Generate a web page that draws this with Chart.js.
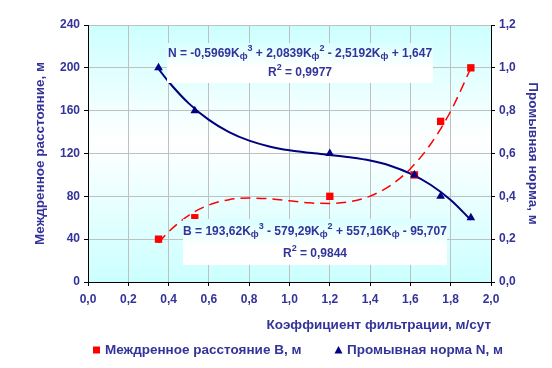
<!DOCTYPE html>
<html><head><meta charset="utf-8">
<script src="https://cdn.jsdelivr.net/npm/chart.js@4/dist/chart.umd.min.js"></script>
<style>html,body{margin:0;padding:0;background:#fff}#wrap{width:552px;height:368px}</style>
</head><body><div id="wrap"><canvas id="c" width="552" height="368"></canvas></div>
<script>
const filtration = [0.35, 0.53, 1.2, 1.62, 1.75, 1.9];
const drainSpacing = [40, 60, 80, 100, 150, 200];
const leachingRate = [1.0, 0.8, 0.6, 0.5, 0.4, 0.3];
const trendX = [0.35, 0.4, 0.5, 0.6, 0.7, 0.8, 0.9, 1.0, 1.1, 1.2, 1.3, 1.4, 1.5, 1.6, 1.7, 1.8, 1.9];
const trendB = [36.6, 46.9, 62.3, 71.9, 76.9, 78.4, 77.7, 75.8, 73.9, 73.3, 75.0, 80.2, 90.1, 105.8, 128.6, 159.5, 199.7];
const trendN = [0.995, 0.935, 0.834, 0.757, 0.700, 0.660, 0.633, 0.615, 0.603, 0.593, 0.582, 0.567, 0.543, 0.506, 0.454, 0.383, 0.290];
const seriesNames = ['Междренное расстояние В, м', 'Промывная норма N, м'];
const axisTitles = {x: 'Коэффициент фильтрации, м/сут', yL: 'Междренное расстояние, м', yR: 'Промывная норма, м'};
const eqB = [['В = 193,62K',''],['ф','sub'],['3','sup'],[' - 579,29K',''],['ф','sub'],['2','sup'],[' + 557,16K',''],['ф','sub'],[' - 95,707','']];
const r2B = [['R',''],['2','sup'],[' = 0,9844','']];
const eqN = [['N = -0,5969K',''],['ф','sub'],['3','sup'],[' + 2,0839K',''],['ф','sub'],['2','sup'],[' - 2,5192K',''],['ф','sub'],[' + 1,647','']];
const r2N = [['R',''],['2','sup'],[' = 0,9977','']];

const TXT = '#333399';
const FONT = 'Liberation Sans, Arial, sans-serif';
const comma = v => Number(v).toFixed(1).replace('.', ',');
const pts = (xs, ys) => xs.map((x, i) => ({x: x, y: ys[i]}));

const bgPlugin = {
  id: 'bg',
  beforeDraw(chart) {
    const {ctx, chartArea: a} = chart;
    const g = ctx.createLinearGradient(0, a.top, 0, a.bottom);
    g.addColorStop(0, '#ccffff');
    g.addColorStop(0.45, '#ffffff');
    g.addColorStop(1, '#ccffff');
    ctx.save();
    ctx.fillStyle = g;
    ctx.fillRect(a.left, a.top, a.right - a.left, a.bottom - a.top);
    ctx.restore();
  }
};

function drawRich(ctx, segs, cx, cy) {
  const big = 'bold 12px ' + FONT, small = 'bold 9px ' + FONT;
  let w = 0;
  segs.forEach(s => { ctx.font = s[1] ? small : big; w += ctx.measureText(s[0]).width; });
  let x = cx - w / 2;
  ctx.textBaseline = 'middle';
  ctx.textAlign = 'left';
  segs.forEach(s => {
    ctx.font = s[1] ? small : big;
    let y = cy;
    if (s[1] === 'sup') y = cy - 5;
    if (s[1] === 'sub') y = cy + 3;
    ctx.fillText(s[0], x, y);
    x += ctx.measureText(s[0]).width;
  });
}

const eqPlugin = {
  id: 'eq',
  afterDatasetsDraw(chart) {
    const ctx = chart.ctx;
    const boxes = [
      {x: 167, y: 43, w: 266, h: 40, l1: eqN, l2: r2N},
      {x: 183, y: 219, w: 264, h: 46, l1: eqB, l2: r2B}
    ];
    ctx.save();
    boxes.forEach(b => {
      const g = ctx.createLinearGradient(0, b.y, 0, b.y + b.h);
      g.addColorStop(0, '#d8ffff');
      g.addColorStop(0.6, '#ffffff');
      g.addColorStop(1, '#ffffff');
      ctx.fillStyle = g;
      ctx.fillRect(b.x, b.y, b.w, b.h);
      ctx.fillStyle = TXT;
      drawRich(ctx, b.l1, b.x + b.w / 2, b.y + b.h * 0.27);
      drawRich(ctx, b.l2, b.x + b.w / 2, b.y + b.h * 0.75);
    });
    ctx.restore();
  }
};

// legend drawn at the positions of the reference, using dataset styles
const legendPlugin = {
  id: 'legendFixed',
  afterDraw(chart) {
    const ctx = chart.ctx;
    const items = [{ds: 0, x: 93}, {ds: 1, x: 335}];
    const cy = 350;
    ctx.save();
    ctx.font = 'bold 13.5px ' + FONT;
    ctx.textBaseline = 'middle';
    ctx.textAlign = 'left';
    items.forEach(it => {
      const d = chart.data.datasets[it.ds];
      ctx.fillStyle = d.backgroundColor;
      ctx.beginPath();
      if (d.pointStyle === 'rect') {
        ctx.rect(it.x, cy - 3.5, 7, 7);
      } else {
        ctx.moveTo(it.x + 3.5, cy - 4);
        ctx.lineTo(it.x + 7.5, cy + 3.5);
        ctx.lineTo(it.x - 0.5, cy + 3.5);
        ctx.closePath();
      }
      ctx.fill();
      ctx.fillStyle = TXT;
      ctx.fillText(d.label, it.x + 12, cy);
    });
    ctx.restore();
  }
};

const tickFont = {family: FONT, size: 12, weight: 'bold'};
const titleFont = {family: FONT, size: 13.5, weight: 'bold'};

new Chart(document.getElementById('c'), {
  type: 'scatter',
  data: {
    datasets: [
      {label: seriesNames[0], data: pts(filtration, drainSpacing), yAxisID: 'y', order: 1,
       pointStyle: 'rect', pointRadius: 5.2, pointHoverRadius: 5.2, backgroundColor: '#ff0000', borderColor: '#ff0000', borderWidth: 0, showLine: false},
      {label: seriesNames[1], data: pts(filtration, leachingRate), yAxisID: 'y1', order: 0,
       pointStyle: 'triangle', pointRadius: 5, pointHoverRadius: 5, backgroundColor: '#000080', borderColor: '#000080', borderWidth: 0, showLine: false},
      {label: 'trendB', data: pts(trendX, trendB), yAxisID: 'y', order: 3, showLine: true, pointRadius: 0,
       borderColor: '#ff0000', borderWidth: 1.5, borderDash: [10, 6], cubicInterpolationMode: 'monotone', fill: false},
      {label: 'trendN', data: pts(trendX, trendN), yAxisID: 'y1', order: 2, showLine: true, pointRadius: 0,
       borderColor: '#000080', borderWidth: 2, cubicInterpolationMode: 'monotone', fill: false}
    ]
  },
  options: {
    responsive: false,
    animation: false,
    events: [],
    layout: {padding: {top: 25, left: 0, right: 0, bottom: 0}},
    plugins: {
      tooltip: {enabled: false},
      legend: {display: false}
    },
    scales: {
      x: {
        type: 'linear', min: 0, max: 2,
        ticks: {stepSize: 0.2, color: TXT, font: tickFont, padding: 6, callback: v => comma(v), maxRotation: 0},
        grid: {color: '#c0c0c0', tickColor: '#000', tickLength: 4, drawTicks: true},
        border: {color: '#000', width: 1},
        title: {display: true, text: axisTitles.x, align: 'end', color: TXT, font: titleFont, padding: {top: 0, bottom: 35}},
        afterFit(s) { s.height = 86; }
      },
      y: {
        position: 'left', min: 0, max: 240,
        ticks: {stepSize: 40, color: TXT, font: tickFont, padding: 4},
        grid: {color: '#c0c0c0', tickColor: '#000', tickLength: 4},
        border: {color: '#000', width: 1},
        title: {display: true, text: axisTitles.yL, color: TXT, font: titleFont, padding: {top: 32, bottom: 0}},
        afterFit(s) { s.width = 88; }
      },
      y1: {
        position: 'right', min: 0, max: 1.2,
        ticks: {stepSize: 0.2, color: TXT, font: tickFont, padding: 4, callback: v => comma(v)},
        grid: {drawOnChartArea: false, tickColor: '#000', tickLength: 4},
        border: {color: '#000', width: 1},
        title: {display: true, text: axisTitles.yR, color: TXT, font: titleFont, padding: {top: 11, bottom: 0}},
        afterFit(s) { s.width = 61; }
      }
    }
  },
  plugins: [bgPlugin, eqPlugin, legendPlugin]
});
</script></body></html>
